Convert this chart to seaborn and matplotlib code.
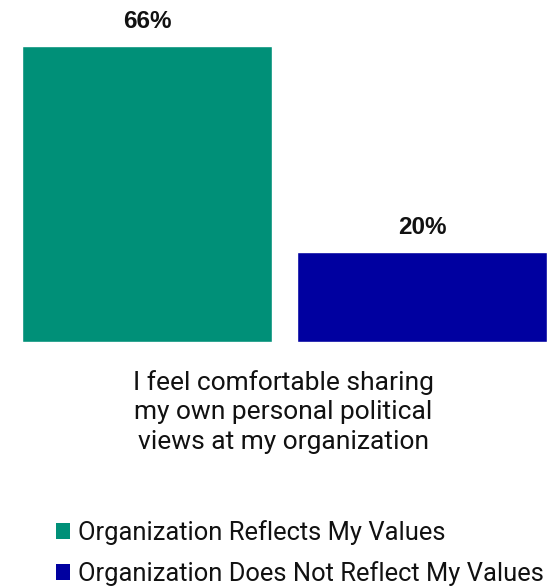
import matplotlib
matplotlib.use("Agg")
import matplotlib.pyplot as plt
import seaborn as sns
import pandas as pd
from matplotlib.patches import Patch

series = ["Organization Reflects My Values", "Organization Does Not Reflect My Values"]
values = [66, 20]
colors = ["#009078", "#0000A0"]
category = "I feel comfortable sharing\nmy own personal political\nviews at my organization"

df = pd.DataFrame({"series": series, "value": values})

sns.set_theme(style="white")
plt.rcParams["font.family"] = ["Roboto", "DejaVu Sans"]

W, H = 548, 587
fig = plt.figure(figsize=(W / 100, H / 100), dpi=100)
ax = fig.add_axes([22 / W, 245 / H, 525 / W, 314 / H])

bw = 10 / 11
sns.barplot(data=df, x="series", y="value", hue="series", palette=colors,
            width=bw, saturation=1, legend=False, ax=ax)
ax.set_xlim(-bw / 2, 1 + bw / 2)
ax.set_ylim(0, 70)
for s in ax.spines.values():
    s.set_visible(False)
ax.set_xticks([])
ax.set_yticks([])
ax.set_xlabel("")
ax.set_ylabel("")

for i, v in enumerate(values):
    ax.annotate(f"{v}%", (i, v), xytext=(0, 13), textcoords="offset points",
                ha="center", va="baseline", fontsize=17.5, fontweight="bold",
                family=["Liberation Sans", "DejaVu Sans"], color="#111111")

fig.text(283 / W, 1 - 412 / H, category, ha="center", va="center",
         fontsize=19, linespacing=1.3, color="#111111")

handles = [Patch(facecolor=c, edgecolor="none") for c in colors]
fig.legend(handles, series, loc="center left", bbox_to_anchor=(56 / W, 1 - 553 / H),
           frameon=False, fontsize=18.4, handlelength=0.55, handleheight=0.55,
           handletextpad=0.3, labelspacing=0.62, borderpad=0, borderaxespad=0,
           labelcolor="#111111")

fig.savefig("out.png", dpi=100)
